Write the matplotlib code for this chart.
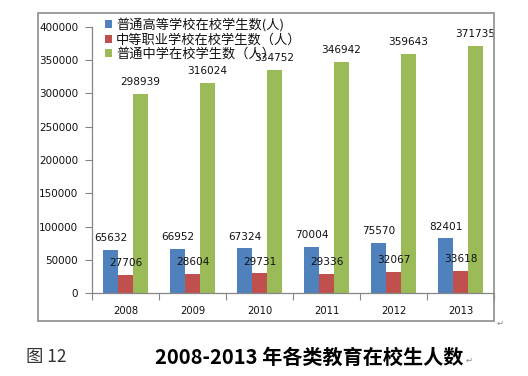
import numpy as np
import matplotlib.pyplot as plt
from matplotlib.patches import Rectangle

years = ['2008', '2009', '2010', '2011', '2012', '2013']
higher = [65632, 66952, 67324, 70004, 75570, 82401]
vocational = [27706, 28604, 29731, 29336, 32067, 33618]
middle = [298939, 316024, 334752, 346942, 359643, 371735]
series_names = ['普通高等学校在校学生数(人)', '中等职业学校在校学生数（人）', '普通中学在校学生数（人）']
colors = ['#4F81BD', '#C0504D', '#9BBB59']

W, H = 528, 376
fig = plt.figure(figsize=(W / 100, H / 100), dpi=100)

# outer chart frame
fig.patches.append(Rectangle((38 / W, 1 - 321 / H), (494 - 38) / W, (321 - 13) / H,
                             transform=fig.transFigure, fill=False, edgecolor='#8c8c8c', lw=1.2))

ax = fig.add_axes([92 / W, 1 - 293.3 / H, (494 - 92) / W, (293.3 - 26.7) / H])
x = np.arange(len(years))
bw = 0.22
for i, (vals, c) in enumerate(zip([higher, vocational, middle], colors)):
    xs = x + (i - 1) * bw
    ax.bar(xs, vals, width=bw, color=c, label=series_names[i], zorder=2)
    for xi, v in zip(xs, vals):
        ax.annotate(str(v), (xi, v), xytext=(0, 8.5), textcoords='offset points',
                    ha='center', va='center', fontsize=7.6, color='#111111',
                    family='DejaVu Sans', zorder=3)

ax.set_xlim(-0.5, len(years) - 0.5)
ax.set_ylim(0, 400000)
ax.set_yticks(np.arange(0, 400001, 50000))
ax.set_yticklabels([str(v) for v in range(0, 400001, 50000)])
ax.set_xticks(x)
ax.set_xticklabels(years)
ax.set_xticks(np.arange(-0.5, len(years)), minor=True)
ax.tick_params(axis='x', which='major', length=0, pad=9, labelsize=7.2, labelcolor='#111111')
ax.tick_params(axis='x', which='minor', length=5, color='#868686', width=0.8)
ax.tick_params(axis='y', length=5, color='#868686', width=0.8, pad=5,
               labelsize=7.5, labelcolor='#111111')
for s in ['top', 'right']:
    ax.spines[s].set_visible(False)
for s in ['left', 'bottom']:
    ax.spines[s].set_color('#868686')
    ax.spines[s].set_linewidth(0.9)

leg = ax.legend(loc='upper left', bbox_to_anchor=(105 / W, 1 - 18 / H),
                bbox_transform=fig.transFigure, frameon=False,
                prop={'family': ['Noto Sans CJK SC', 'DejaVu Sans'], 'size': 9.5},
                handlelength=0.55, handleheight=0.55, handletextpad=0.3,
                labelspacing=0.12, borderpad=0, borderaxespad=0)
for t in leg.get_texts():
    t.set_color('#111111')

fig.text(26 / W, 1 - 357 / H, '图 12', fontsize=12.5, va='center', ha='left',
         family=['Noto Sans CJK SC', 'DejaVu Sans'], color='#333333')
fig.text(155 / W, 1 - 357 / H, '2008-2013 年各类教育在校生人数', fontsize=14.5,
         va='center', ha='left', weight='bold',
         family=['Noto Sans CJK SC', 'DejaVu Sans'], color='#000000')
fig.text(497 / W, 1 - 323 / H, '↵', fontsize=6, color='#888888', va='center', ha='left',
         family='DejaVu Sans')
fig.text(466 / W, 1 - 360 / H, '↵', fontsize=6, color='#888888', va='center', ha='left',
         family='DejaVu Sans')

plt.savefig('out.png', dpi=100)
